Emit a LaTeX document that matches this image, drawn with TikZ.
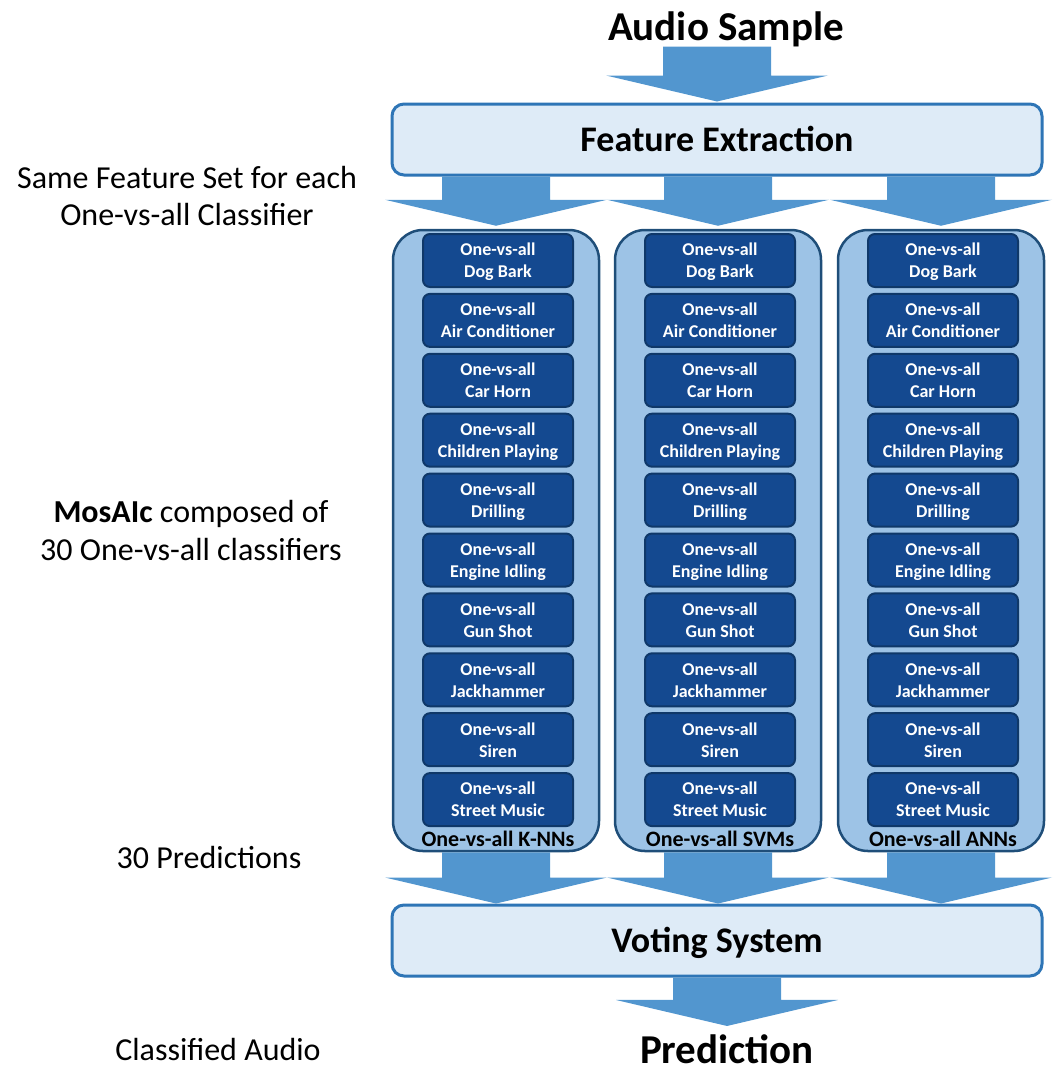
\documentclass[tikz,border=0pt]{standalone}
\usepackage{fontspec}
\setmainfont{Carlito}
\usetikzlibrary{calc}

\definecolor{arrowblue}{RGB}{82,150,207}
\definecolor{stagefill}{RGB}{222,235,247}
\definecolor{stageline}{RGB}{46,117,182}
\definecolor{colfill}{RGB}{157,195,230}
\definecolor{colline}{RGB}{31,78,121}
\definecolor{clsfill}{RGB}{20,73,144}
\definecolor{clsline}{RGB}{15,56,105}

% block arrow: shaft starts at the height of #1, tip at #2
\newcommand{\blockarrow}[2]{%
  \fill[arrowblue] let \p1=#1, \p2=#2 in
    ({\x2-54pt},\y1) -- ({\x2+54pt},\y1) -- ({\x2+54pt},{\y2+26pt})
    -- ({\x2+111pt},{\y2+26pt}) -- (\x2,\y2) -- ({\x2-111pt},{\y2+26pt})
    -- ({\x2-54pt},{\y2+26pt}) -- cycle;}

\begin{document}
\begin{tikzpicture}[x=1pt,y=-1pt,
  bigtext/.style={anchor=base,inner sep=0pt,font=\bfseries\fontsize{41}{48}\selectfont},
  sidetext/.style={anchor=base,inner sep=0pt,font=\fontsize{32}{38}\selectfont},
  stagebox/.style={draw=stageline,line width=3pt,fill=stagefill,rounded corners=12pt,
    minimum width=650pt,minimum height=71pt,text height=24pt,text depth=0pt,
    font=\bfseries\fontsize{36}{42}\selectfont},
  colbox/.style={draw=colline,line width=2.5pt,fill=colfill,rounded corners=30pt,
    minimum width=206pt,minimum height=621pt},
  clsbox/.style={draw=clsline,line width=2pt,fill=clsfill,rounded corners=7pt,
    minimum width=150pt,minimum height=53pt,inner sep=0pt,text=white,align=center,
    text depth=0pt,font=\bfseries\fontsize{18}{22}\selectfont},
  collabel/.style={anchor=base,inner sep=0pt,font=\bfseries\fontsize{22}{24}\selectfont}]
  \useasboundingbox (0,0) rectangle (1064,1072);

  % main chain
  \node[bigtext] (audio) at (726,40) {Audio Sample};
  \node[stagebox] (feat) at (717,139.5) {Feature Extraction};
  \node[stagebox] (vote) at (717,940.5) {Voting System};
  \node[bigtext] (pred) at (727,1063) {Prediction};

  % the three groups of one-vs-all classifiers
  \foreach \col/\cx/\lbl in {knn/496/K-NNs, svm/718/SVMs, ann/941/ANNs} {
    \node[colbox] (\col) at (\cx,540.5) {};
    \foreach \cls [count=\i from 0] in {Dog Bark, Air Conditioner, Car Horn,
        Children Playing, Drilling, Engine Idling, Gun Shot, Jackhammer, Siren,
        Street Music} {
      \node[clsbox] (\col-\i) at (\cx+2,{260.5+59.9*\i}) {One-vs-all\\\cls};
    }
    \node[collabel] (\col-lbl) at (\cx+2,846) {One-vs-all \lbl};
  }

  % arrows
  \blockarrow{(audio.south)}{([yshift=1pt]feat.north)}
  \foreach \col in {knn,svm,ann} {
    \blockarrow{(feat.south)}{([yshift=3pt]\col.north)}
    \blockarrow{(\col.south)}{(vote.north -| \col.south)}
  }
  \blockarrow{(vote.south)}{([yshift=8pt]pred.north)}

  % side notes
  \node[sidetext] (note1a) at (187,188) {Same Feature Set for each};
  \node[sidetext] (note1b) at (187,225) {One-vs-all Classifier};
  \node[sidetext] (note2a) at (191,522) {\textbf{MosAIc} composed of};
  \node[sidetext] (note2b) at (191,560) {30 One-vs-all classifiers};
  \node[sidetext] (note3) at (209,868) {30 Predictions};
  \node[sidetext] (note4) at (218,1060) {Classified Audio};
\end{tikzpicture}
\end{document}
